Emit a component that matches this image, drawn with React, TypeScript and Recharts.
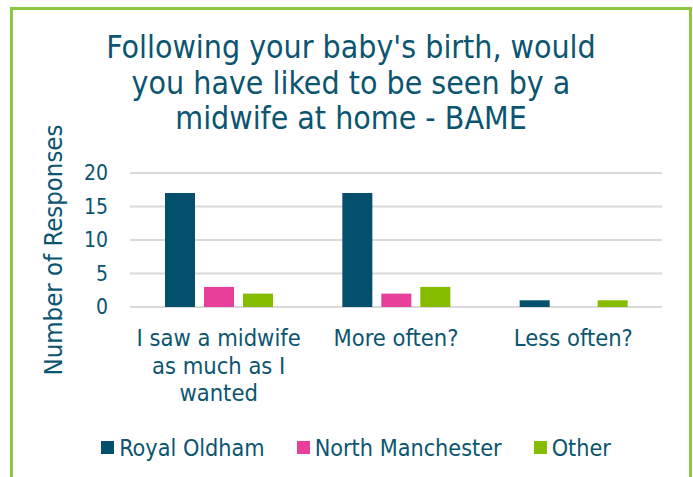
import React from "react";
import { BarChart, Bar, XAxis, YAxis, CartesianGrid } from "recharts";

const categories = ["I saw a midwife as much as I wanted", "More often?", "Less often?"];
const categoryLines = [["I saw a midwife", "as much as I", "wanted"], ["More often?"], ["Less often?"]];
const seriesNames = ["Royal Oldham", "North Manchester", "Other"];
const royalOldham = [17, 17, 1];
const northManchester = [3, 2, 0];
const other = [2, 3, 1];
const yTicks = [0, 5, 10, 15, 20];
const titleLines = ["Following your baby's birth, would", "you have liked to be seen by a", "midwife at home - BAME"];
const yAxisTitle = "Number of Responses";

const COLORS = ["#02506B", "#E8409A", "#86BC00"];
const TEXT = "#0B5570";
const FONT = "'DejaVu Sans Condensed', 'Liberation Sans', sans-serif";

const data = categories.map((c, i) => ({
  name: c,
  royal: royalOldham[i],
  north: northManchester[i],
  other: other[i],
}));

const CatTick = (props: any) => {
  const { x, y, index } = props;
  const lines = categoryLines[index] || [props.payload.value];
  return (
    <text x={x} y={y} textAnchor="middle" fill={TEXT} fontSize={23.5} fontFamily={FONT}>
      {lines.map((l: string, i: number) => (
        <tspan key={i} x={x} dy={i === 0 ? 39 : 27.5}>
          {l}
        </tspan>
      ))}
    </text>
  );
};

export default function App() {
  return (
    <div style={{ position: "absolute", left: 0, top: 0, width: 693, height: 477, background: "#fff", overflow: "hidden" }}>
      <div
        style={{
          position: "absolute",
          left: 10,
          top: 7,
          width: 676,
          height: 500,
          border: "3px solid #8DC63F",
          boxSizing: "content-box",
        }}
      />
      <div
        style={{
          position: "absolute",
          left: 0,
          width: 702,
          top: 29,
          textAlign: "center",
          fontFamily: FONT,
          fontSize: 31.8,
          lineHeight: "35.5px",
          color: TEXT,
        }}
      >
        {titleLines.map((t) => (
          <div key={t}>{t}</div>
        ))}
      </div>
      <div
        style={{
          position: "absolute",
          left: 53,
          top: 250,
          transform: "translate(-50%, -50%) rotate(-90deg)",
          whiteSpace: "nowrap",
          fontFamily: FONT,
          fontSize: 25.5,
          color: TEXT,
        }}
      >
        {yAxisTitle}
      </div>
      <div style={{ position: "absolute", left: 0, top: 0 }}>
        <BarChart width={693} height={477} data={data} margin={{ top: 173, right: 31, bottom: 70, left: 70 }} barSize={30} barGap={9}>
          <CartesianGrid horizontal vertical={false} stroke="#D9D9D9" strokeWidth={2} />
          <XAxis dataKey="name" axisLine={false} tickLine={false} tickSize={0} tickMargin={0} tick={<CatTick />} interval={0} height={100} />
          <YAxis
            domain={[0, 20]}
            ticks={yTicks}
            axisLine={false}
            tickLine={false}
            tickSize={0}
            tickMargin={22}
            width={60}
            tick={{ fill: TEXT, fontSize: 21, fontFamily: FONT }}
          />
          <Bar dataKey="royal" name={seriesNames[0]} fill={COLORS[0]} isAnimationActive={false} />
          <Bar dataKey="north" name={seriesNames[1]} fill={COLORS[1]} isAnimationActive={false} />
          <Bar dataKey="other" name={seriesNames[2]} fill={COLORS[2]} isAnimationActive={false} />
        </BarChart>
      </div>
      <div
        style={{
          position: "absolute",
          left: 0,
          top: 434.5,
          width: 712,
          height: 26,
          display: "flex",
          justifyContent: "center",
          alignItems: "center",
          fontFamily: FONT,
          fontSize: 23.2,
          lineHeight: "26px",
          color: TEXT,
        }}
      >
        {seriesNames.map((n, i) => (
          <div key={n} style={{ display: "flex", alignItems: "center", marginLeft: i === 0 ? 0 : 32 }}>
            <div style={{ width: 13, height: 13, background: COLORS[i], marginRight: 5 }} />
            <span>{n}</span>
          </div>
        ))}
      </div>
    </div>
  );
}
